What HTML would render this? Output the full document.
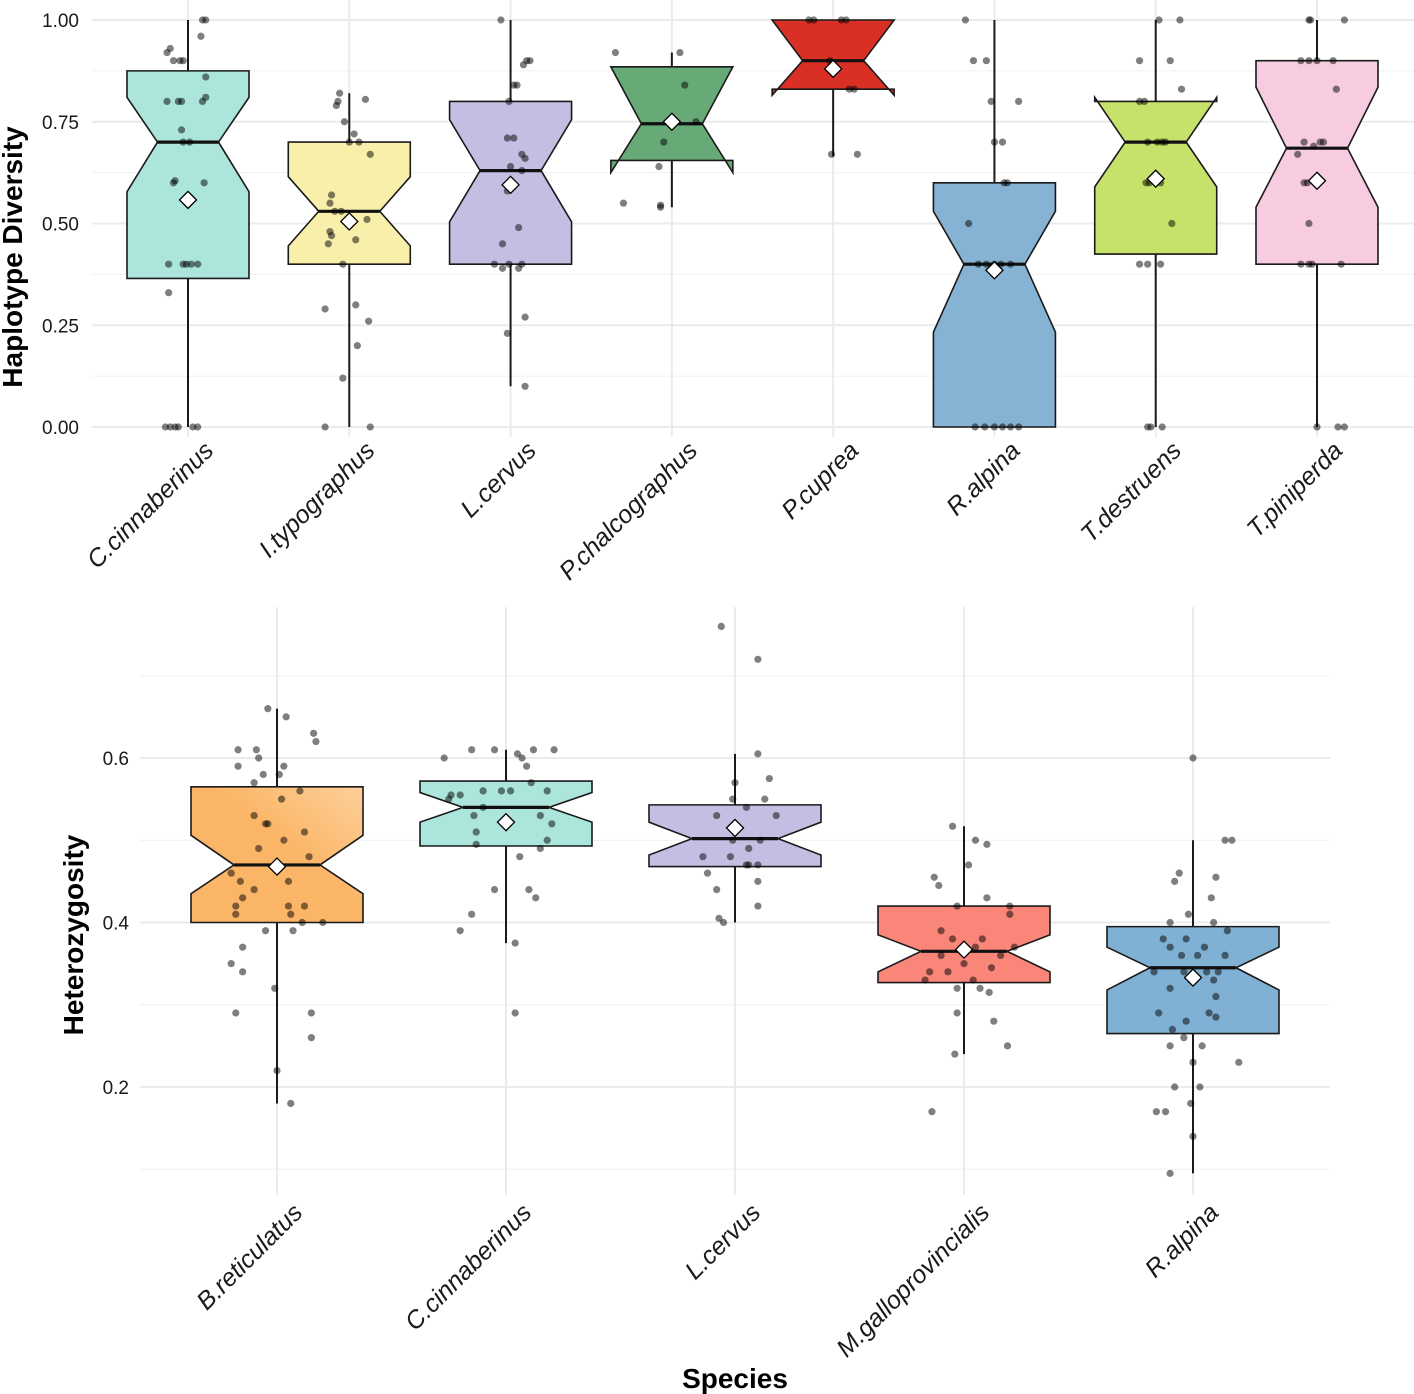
<!DOCTYPE html>
<html><head><meta charset="utf-8"><style>
html,body{margin:0;padding:0;background:#fff;}
svg{display:block;font-family:"Liberation Sans",Arial,sans-serif;}
</style></head><body>
<svg id="chart" width="1414" height="1394" viewBox="0 0 1414 1394" xmlns="http://www.w3.org/2000/svg">
<defs>
<linearGradient id="orangeGrad" x1="0" y1="1" x2="1" y2="0">
<stop offset="0.55" stop-color="#fbb566"/><stop offset="1" stop-color="#fdd09a"/>
</linearGradient>
</defs>
</svg>
<script>
// ---------- Top panel data ----------
const topCategories = ["C.cinnaberinus","I.typographus","L.cervus","P.chalcographus","P.cuprea","R.alpina","T.destruens","T.piniperda"];
const topColors = ["#abe5db","#f8f0aa","#c4bee3","#67aa77","#d92f24","#86b2d3","#c6e26a","#f7cbe0"];
const topQ1 = [0.365,0.40,0.40,0.655,0.83,0.0,0.425,0.40];
const topMedian = [0.70,0.53,0.63,0.745,0.90,0.40,0.70,0.685];
const topQ3 = [0.875,0.70,0.80,0.885,1.0,0.60,0.80,0.90];
const topWhiskLo = [0.0,0.0,0.10,0.54,0.665,0.0,0.0,0.0];
const topWhiskHi = [1.0,0.82,1.0,0.92,1.0,1.0,1.0,1.0];
const topNotchLo = [0.578,0.445,0.504,0.625,0.815,0.233,0.59,0.54];
const topNotchHi = [0.81,0.615,0.755,0.885,1.0,0.53,0.81,0.835];
const topMean = [0.558,0.505,0.595,0.75,0.88,0.385,0.61,0.605];
const topTicks = [0,0.25,0.5,0.75,1.0];
const topTickLabels = ["0.00","0.25","0.50","0.75","1.00"];
// jitter points: [offset (fraction of category spacing), value]
const topPoints = [
 [[-.13,.92],[-.11,.93],[-.09,.90],[-.05,.90],[-.03,.90],[.09,1.0],[.11,1.0],[.08,.96],[.11,.86],[-.13,.80],[-.06,.80],[-.04,.80],[.09,.80],[.11,.81],[-.04,.73],[-.03,.70],[.01,.70],[-.09,.60],[-.08,.605],[.10,.60],[-.12,.40],[-.03,.40],[-.01,.40],[.02,.40],[.06,.40],[-.12,.33],[-.14,0],[-.11,0],[-.08,0],[-.06,0],[.03,0],[.06,0]],
 [[-.06,.82],[-.07,.80],[-.08,.79],[.1,.805],[-.03,.75],[0,.70],[.06,.70],[.03,.72],[.13,.67],[-.11,.57],[-.12,.55],[-.09,.53],[-.05,.53],[.11,.51],[-.12,.48],[-.11,.47],[.04,.46],[-.13,.45],[-.04,.40],[.04,.30],[-.15,.29],[.12,.26],[.05,.20],[-.04,.12],[-.15,0],[.13,0]],
 [[-.06,1.0],[.08,.89],[.1,.90],[.12,.90],[.02,.84],[.04,.84],[-.01,.80],[-.02,.71],[.02,.71],[.07,.67],[.09,.66],[0,.64],[.07,.63],[-.02,.58],[.05,.49],[-.05,.45],[-.1,.40],[-.05,.39],[-.01,.40],[.05,.39],[.07,.40],[.09,.27],[-.02,.23],[.09,.10]],
 [[-.35,.92],[.05,.92],[.08,.84],[-.05,.70],[-.08,.64],[-.3,.55],[-.07,.54],[-.07,.545],[.15,.75]],
 [[-.15,1.0],[-.12,1.0],[.05,1.0],[.08,1.0],[-.02,.90],[.1,.83],[.13,.83],[-.01,.67],[.15,.67]],
 [[-.18,1.0],[-.13,.90],[-.05,.90],[-.02,.80],[.15,.80],[0,.70],[.05,.70],[.06,.60],[.08,.60],[-.16,.50],[-.1,.40],[-.05,.40],[0,.40],[.04,.40],[.1,.40],[-.12,0],[-.06,0],[0,0],[.05,0],[.1,0],[.15,0]],
 [[-.1,.90],[.15,1.0],[.16,.83],[.02,1.0],[.09,.90],[-.07,.80],[-.1,.80],[-.05,.70],[.01,.70],[.04,.70],[.06,.70],[-.06,.60],[-.04,.60],[.03,.60],[.1,.50],[-.1,.40],[-.05,.40],[.03,.40],[-.05,0],[-.03,0],[.04,0]],
 [[-.05,1.0],[-.04,1.0],[.17,1.0],[-.1,.90],[-.05,.90],[0,.90],[.1,.90],[.12,.83],[-.08,.70],[-.02,.69],[.02,.70],[.04,.70],[-.08,.60],[-.06,.60],[-.12,.67],[-.05,.50],[-.1,.40],[-.05,.40],[-.03,.40],[.15,.40],[0,0],[.13,0],[.17,0]]
];
// ---------- Bottom panel data ----------
const botCategories = ["B.reticulatus","C.cinnaberinus","L.cervus","M.galloprovincialis","R.alpina"];
const botColors = ["url(#orangeGrad)","#abe5db","#c4bee3","#f98679","#80b0d3"];
const botQ1 = [0.40,0.493,0.468,0.327,0.265];
const botMedian = [0.47,0.54,0.502,0.365,0.345];
const botQ3 = [0.565,0.572,0.543,0.42,0.395];
const botWhiskLo = [0.18,0.375,0.40,0.24,0.095];
const botWhiskHi = [0.66,0.61,0.605,0.517,0.50];
const botNotchLo = [0.435,0.522,0.482,0.34,0.318];
const botNotchHi = [0.506,0.558,0.522,0.385,0.37];
const botMean = [0.468,0.522,0.515,0.367,0.333];
const botTicks = [0.2,0.4,0.6];
const botTickLabels = ["0.2","0.4","0.6"];
const botPoints = [
 [[-.04,.66],[.04,.65],[.16,.63],[.17,.62],[-.17,.61],[-.09,.61],[-.08,.60],[-.17,.59],[.03,.59],[.01,.58],[-.1,.57],[-.06,.58],[.1,.56],[.02,.55],[-.1,.53],[-.05,.52],[-.04,.52],[.03,.50],[.12,.51],[-.08,.49],[.14,.48],[-.2,.46],[-.16,.45],[-.1,.44],[.05,.45],[-.15,.43],[-.18,.42],[.05,.42],[.12,.42],[.06,.41],[-.18,.41],[.07,.39],[-.05,.39],[.11,.40],[.2,.40],[-.15,.37],[-.2,.35],[-.15,.34],[-.01,.32],[-.18,.29],[.15,.29],[.15,.26],[.0,.22],[.06,.18]],
 [[-.15,.61],[-.05,.61],[.07,.60],[.05,.605],[.12,.61],[.21,.61],[-.27,.60],[.09,.59],[-.1,.56],[.11,.57],[-.02,.56],[.02,.56],[-.2,.555],[-.24,.555],[-.25,.55],[-.1,.54],[-.14,.53],[.18,.56],[.15,.53],[-.13,.51],[.2,.52],[-.13,.495],[.15,.49],[.18,.50],[.06,.48],[-.05,.44],[.1,.44],[.13,.43],[-.15,.41],[-.2,.39],[.04,.375],[.04,.29]],
 [[-.06,.76],[.1,.72],[.1,.605],[0,.57],[.15,.575],[-.01,.55],[.13,.55],[.05,.54],[.18,.53],[-.08,.53],[-.01,.50],[.11,.50],[.06,.49],[-.02,.48],[-.14,.48],[.06,.47],[.1,.47],[.05,.47],[-.12,.46],[-.08,.44],[.1,.45],[-.05,.40],[.1,.42],[-.07,.405]],
 [[-.05,.517],[.05,.50],[.1,.495],[.02,.47],[-.13,.455],[-.11,.445],[.1,.43],[.2,.42],[-.03,.42],[.2,.41],[-.1,.39],[-.05,.38],[.08,.38],[.05,.37],[.22,.37],[-.1,.36],[.0,.35],[.16,.36],[-.15,.34],[-.07,.34],[.12,.345],[.04,.33],[-.17,.33],[-.03,.32],[.07,.32],[.11,.315],[-.03,.29],[.13,.28],[-.04,.24],[.19,.25],[-.14,.17]],
 [[.0,.60],[.14,.50],[.17,.50],[.1,.455],[.08,.43],[-.06,.46],[-.08,.45],[-.02,.41],[.09,.40],[-.1,.40],[-.13,.38],[.15,.39],[-.03,.38],[.05,.37],[-.1,.37],[.14,.36],[.02,.36],[-.05,.36],[.11,.34],[-.17,.34],[-.04,.34],[.06,.34],[.09,.33],[-.01,.33],[.1,.31],[-.1,.32],[.07,.29],[-.15,.29],[-.03,.28],[.1,.285],[-.09,.27],[-.04,.26],[.04,.25],[-.1,.25],[.0,.23],[.2,.23],[.03,.20],[-.08,.20],[-.12,.17],[-.01,.18],[-.16,.17],[.0,.14],[-.1,.095]]
];

const NS = "http://www.w3.org/2000/svg";
const svg = document.getElementById("chart");
function mk(tag, attrs, parent){
  const e = document.createElementNS(NS, tag);
  for (const k in attrs) e.setAttribute(k, attrs[k]);
  (parent||svg).appendChild(e);
  return e;
}

function drawPanel(cfg){
  const g = mk("g", {});
  
  
  const n = cfg.cats.length;
  const step = (cfg.x1 - cfg.x0) / (n - 1);
  const xPos = i => cfg.x0 + i * step;
  const yPos = v => cfg.yZero - (v - cfg.vZero) * cfg.pxPerUnit;
  const grid = mk("g", {}, g);
  
  
  for (let k = 0; k < cfg.minor.length; k++) {
    const ln = mk("line", {x1: cfg.gl, x2: cfg.gr, y1: yPos(cfg.minor[k]), y2: yPos(cfg.minor[k]), stroke: "#f0f0f0", "stroke-width": 1}, grid);
    
    
  }
  for (let k = 0; k < cfg.ticks.length; k++) {
    const ln = mk("line", {x1: cfg.gl, x2: cfg.gr, y1: yPos(cfg.ticks[k]), y2: yPos(cfg.ticks[k]), stroke: "#ebebeb", "stroke-width": 2}, grid);
    
    
    const t = mk("text", {x: cfg.tickX, y: yPos(cfg.ticks[k]) + 7, "text-anchor": "end", "font-size": 19, fill: "#1a1a1a"}, g);
    t.textContent = cfg.tickLabels[k];
    
    
  }
  for (let i = 0; i < n; i++) {
    const ln = mk("line", {x1: xPos(i), x2: xPos(i), y1: cfg.gt, y2: cfg.gb, stroke: "#ebebeb", "stroke-width": 2}, grid);
    
    
  }
  const hw = cfg.hw, inset = hw * 0.5;
  for (let i = 0; i < n; i++) {
    const cx = xPos(i);
    const bg = mk("g", {}, g);
    
    
    const w = mk("line", {x1: cx, x2: cx, y1: yPos(cfg.wlo[i]), y2: yPos(cfg.whi[i]), stroke: "#1a1a1a", "stroke-width": 2}, bg);
    
    
    const L = cx - hw, R = cx + hw;
    const pts = [[L, yPos(cfg.q3[i])],[R, yPos(cfg.q3[i])],[R, yPos(cfg.nhi[i])],[R - inset, yPos(cfg.med[i])],[R, yPos(cfg.nlo[i])],[R, yPos(cfg.q1[i])],[L, yPos(cfg.q1[i])],[L, yPos(cfg.nlo[i])],[L + inset, yPos(cfg.med[i])],[L, yPos(cfg.nhi[i])]];
    const p = mk("polygon", {points: pts.map(q => q.join(",")).join(" "), fill: cfg.colors[i], stroke: "#1a1a1a", "stroke-width": 1.6}, bg);
    
    
    const m = mk("line", {x1: L + inset, x2: R - inset, y1: yPos(cfg.med[i]), y2: yPos(cfg.med[i]), stroke: "#111", "stroke-width": 3.2}, bg);
    
    
    for (const pt of cfg.points[i]) {
      const c = mk("circle", {cx: cx + pt[0] * step, cy: yPos(pt[1]), r: 3.6, fill: "#000", "fill-opacity": 0.5}, bg);
      
      
    }
    const my = yPos(cfg.mean[i]), d = 8.5;
    const dm = mk("polygon", {points: `${cx},${my-d} ${cx+d},${my} ${cx},${my+d} ${cx-d},${my}`, fill: "#fff", stroke: "#000", "stroke-width": 1.3}, bg);
    
    
    const tx = cx + 27, ty = cfg.labelY;
    const t = mk("text", {x: tx, y: ty, "text-anchor": "end", "font-size": 25, fill: "#1a1a1a", "font-style": "italic", transform: `rotate(-45 ${tx} ${ty})`}, g);
    t.textContent = cfg.cats[i];
    
    
  }
}

drawPanel({name: "haplotype-diversity-panel", cats: topCategories, colors: topColors, q1: topQ1, med: topMedian, q3: topQ3, wlo: topWhiskLo, whi: topWhiskHi, nlo: topNotchLo, nhi: topNotchHi, mean: topMean, points: topPoints, ticks: topTicks, tickLabels: topTickLabels, minor: [0.125,0.375,0.625,0.875],
  x0: 188, x1: 1317, yZero: 427, vZero: 0, pxPerUnit: 407, hw: 61, gl: 92, gr: 1414, gt: 0, gb: 437, tickX: 79, labelY: 452});
drawPanel({name: "heterozygosity-panel", cats: botCategories, colors: botColors, q1: botQ1, med: botMedian, q3: botQ3, wlo: botWhiskLo, whi: botWhiskHi, nlo: botNotchLo, nhi: botNotchHi, mean: botMean, points: botPoints, ticks: botTicks, tickLabels: botTickLabels, minor: [0.1,0.3,0.5,0.7],
  x0: 277, x1: 1193, yZero: 1087, vZero: 0.2, pxPerUnit: 822.5, hw: 86, gl: 140, gr: 1330, gt: 607, gb: 1195, tickX: 129, labelY: 1214});

let t1 = mk("text", {x: 22, y: 257, "text-anchor": "middle", "font-size": 28, "font-weight": "bold", transform: "rotate(-90 22 257)"});
t1.textContent = "Haplotype Diversity";


let t2 = mk("text", {x: 83, y: 935, "text-anchor": "middle", "font-size": 28, "font-weight": "bold", transform: "rotate(-90 83 935)"});
t2.textContent = "Heterozygosity";


let t3 = mk("text", {x: 735, y: 1388, "text-anchor": "middle", "font-size": 28, "font-weight": "bold"});
t3.textContent = "Species";


</script>
</body></html>
